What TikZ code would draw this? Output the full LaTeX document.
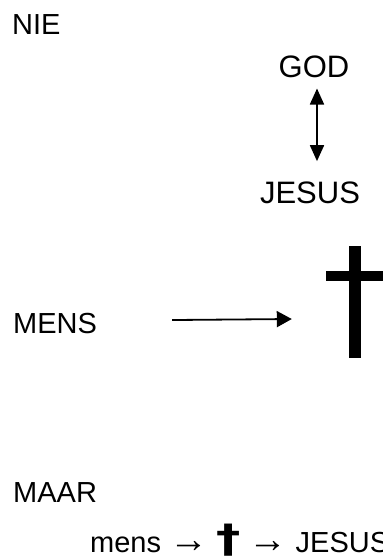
\documentclass[tikz,border=0pt]{standalone}
\usepackage{fontspec}
\setmainfont{Liberation Sans}
\newfontfamily\dejavu{DejaVu Sans}
\usetikzlibrary{arrows.meta}
\newcommand\rpijl{{\fontsize{39}{39}\selectfont →}}
\newcommand\kruisje{{\dejavu\bfseries\fontsize{39}{39}\selectfont\scalebox{1.25}[1]{†}}}
\begin{document}
\begin{tikzpicture}[x=1pt, y=-1pt,
  txt/.style={inner sep=0pt, font=\fontsize{29}{34}\selectfont},
  groot/.style={inner sep=0pt, font=\fontsize{31}{36}\selectfont},
  pijl/.style={line width=1.8pt, -{Triangle[width=16pt,length=15pt]}},
  dpijl/.style={line width=1.8pt, {Triangle[width=14pt,length=16pt]}-{Triangle[width=14pt,length=16pt]}}]
\useasboundingbox (0,0) rectangle (383,558);

% bovenste deel
\node[txt, anchor=base west] (nie) at (12,34) {NIE};
\node[groot, anchor=base] (god) at (314,77) {GOD};
\node[groot, anchor=base] (jesus) at (310,203) {JESUS};
\draw[dpijl] ([xshift=3pt,yshift=-11pt]god.south) -- ([xshift=7pt,yshift=20pt]jesus.north);

% mens en kruis
\node[txt, anchor=base west] (mens) at (13,333) {MENS};
\node[inner sep=0pt, minimum width=58pt, minimum height=112pt] (kruis) at (355,302) {};
\fill ([xshift=-6pt]kruis.north) rectangle ([xshift=6pt]kruis.south);
\fill ([yshift=-25pt]kruis.north west) rectangle ([yshift=-35pt]kruis.north east);
\draw[pijl] ([xshift=75pt,yshift=3pt]mens.east) -- ([xshift=-34pt,yshift=-17pt]kruis.west);

% onderste deel
\node[txt, anchor=base west] (maar) at (13,502) {MAAR};
\node[txt, anchor=base west] (regel) at (90,552)
  {mens \rpijl\ \kruisje\ \rpijl\ JESUS};
\end{tikzpicture}
\end{document}
